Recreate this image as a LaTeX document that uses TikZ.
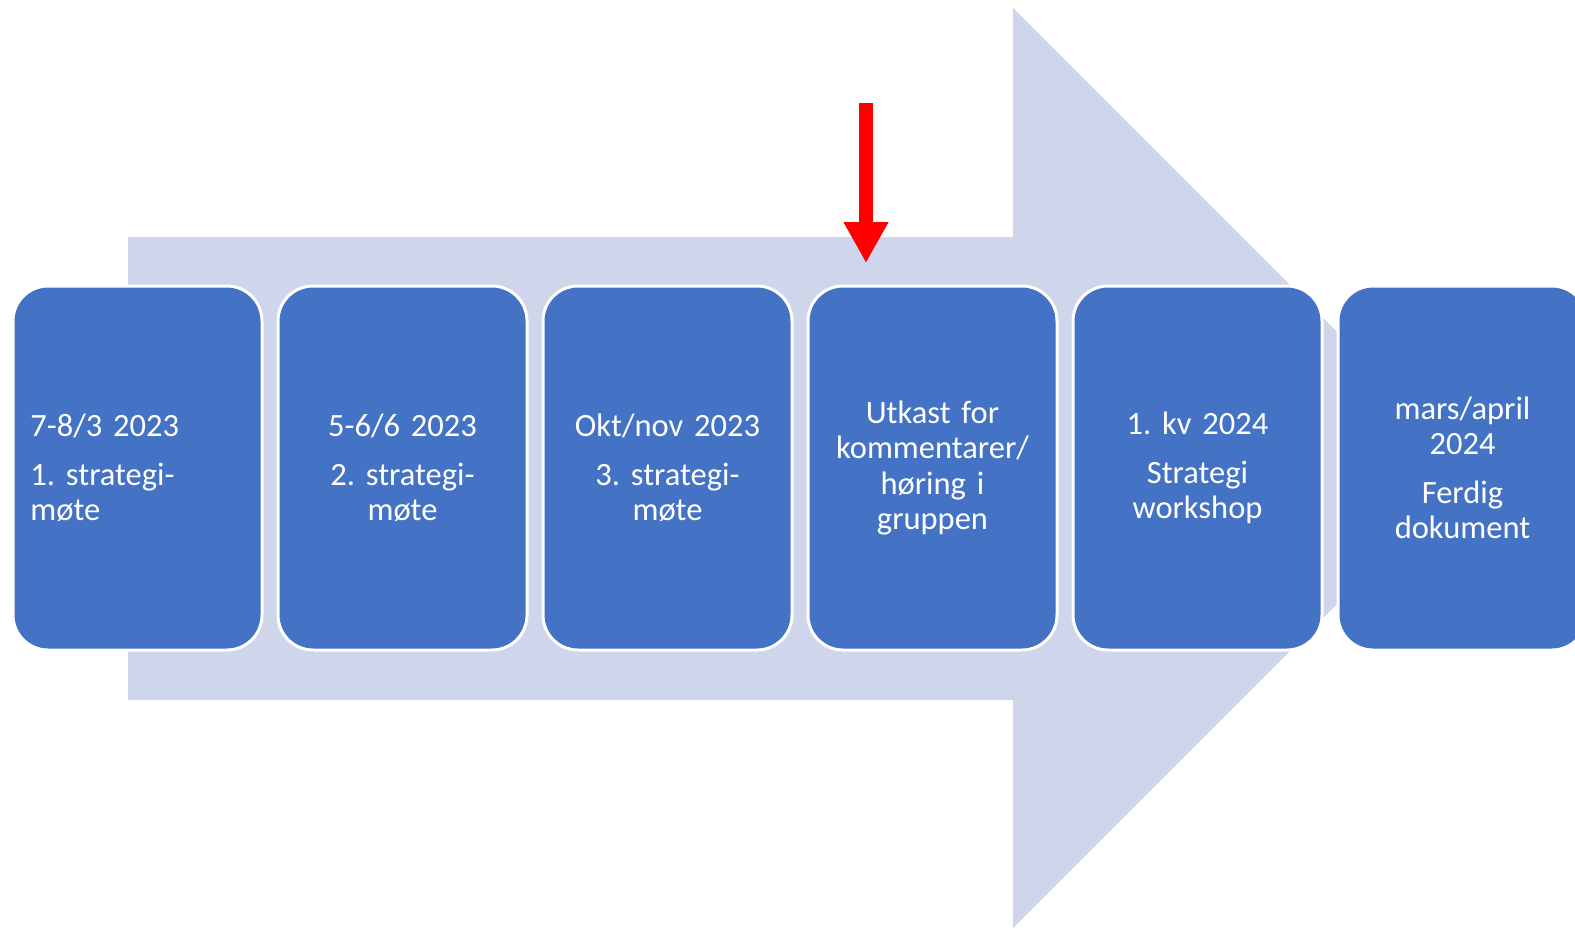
\documentclass[tikz,border=0pt]{standalone}
\usepackage{fontspec}
\setmainfont{Carlito}
\frenchspacing
\usepackage{tikz}
\usetikzlibrary{arrows.meta}
\definecolor{boxblue}{HTML}{4472C4}
\definecolor{arrowgrey}{HTML}{CFD5EA}
\newcommand\boxfont{\fontsize{32.5}{35.5}\selectfont\spaceskip=2.5pt\relax}
\tikzset{
BOX/.style ={draw=white,fill=boxblue,line width=3pt,rounded corners=35pt,minimum width=249pt,minimum height=364pt,text=white,text width=214pt,align=center,inner sep=0pt,font=\boxfont},
BIGARROW/.style={draw=none,fill=arrowgrey},
REDARROW/.style={draw=red,line width=14pt,-{Triangle[width=42pt,length=41pt]}},
}
\begin{document}
\begin{tikzpicture} [x=1pt,y=-1pt] %tidslinje strategi
	\useasboundingbox[fill=white] (0,0) rectangle (1575,929);
	\path[BIGARROW] (128,237) -- (1013,237) -- (1013,8) -- (1473,468) -- (1013,928) -- (1013,700) -- (128,700) -- cycle;
	\node[BOX,align=left] (moete1) at (137.5,468) {7-8/3 2023\\[13pt]1. strategi-\\møte};
	\node[BOX] (moete2) at (402.5,468) {5-6/6 2023\\[13pt]2. strategi-\\møte};
	\node[BOX] (moete3) at (667.5,468) {Okt/nov 2023\\[13pt]3. strategi-\\møte};
	\node[BOX] (utkast) at (932.5,468) {Utkast for\\kommentarer/\\høring i\\gruppen};
	\node[BOX] (workshop) at (1197.5,468) {1. kv 2024\\[13pt]Strategi\\workshop};
	\node[BOX] (ferdig) at (1462.5,468) {mars/april\\2024\\[13pt]Ferdig\\dokument};
	\coordinate (redtop) at (866,103);
	\coordinate (redtip) at (866,263);
	\draw[REDARROW] (redtop) -- (redtip);
\end{tikzpicture}
\end{document}
